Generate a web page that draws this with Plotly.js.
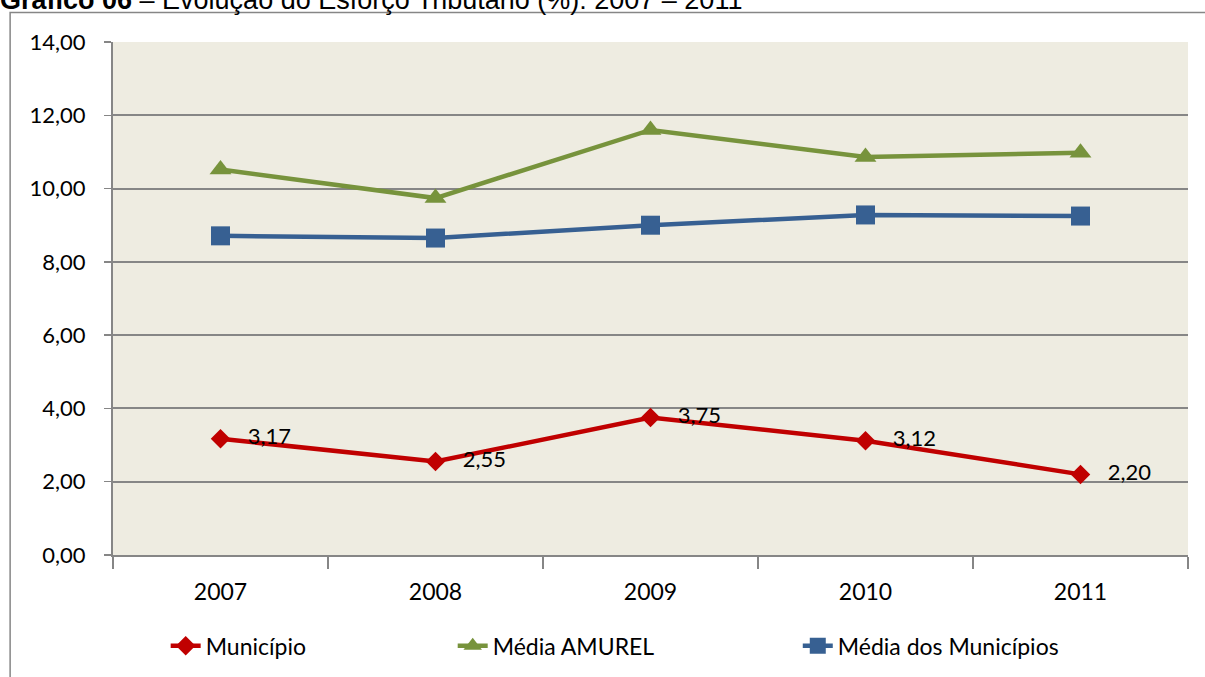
<!DOCTYPE html>
<html>
<head>
<meta charset="utf-8">
<script src="https://cdn.plot.ly/plotly-3.0.1.min.js"></script>
<style>
  html, body { margin: 0; padding: 0; background: #fff; }
  #grafico { width: 1205px; height: 677px; }
</style>
</head>
<body>
<div id="grafico"></div>
<script>
// Esforço tributário (%) por ano
const anos = ['2007', '2008', '2009', '2010', '2011'];
const municipio = [3.17, 2.55, 3.75, 3.12, 2.20];
const mediaAmurel = [10.52, 9.74, 11.60, 10.86, 10.98];
const mediaMunicipios = [8.71, 8.65, 9.00, 9.28, 9.25];

const fonte = 'Lato, "Open Sans", sans-serif';
const cinza = '#868686';

const serieMunicipio = {
    x: anos,
    y: municipio,
    name: 'Município',
    type: 'scatter',
    mode: 'lines+markers+text',
    texttemplate: '\u00a0\u00a0\u00a0%{y:.2f}',
    textposition: 'middle right',
    textfont: { family: fonte, size: 22, color: '#000' },
    line: { color: '#C00000', width: 4.5 },
    marker: { symbol: 'diamond', size: 15, color: '#C00000' },
    legend: 'legend'
};

const serieAmurel = {
    x: anos,
    y: mediaAmurel,
    name: 'Média AMUREL',
    type: 'scatter',
    mode: 'lines+markers',
    line: { color: '#77933C', width: 4.5 },
    marker: { symbol: 'triangle-up', size: 19, color: '#77933C' },
    legend: 'legend2'
};

const serieMedia = {
    x: anos,
    y: mediaMunicipios,
    name: 'Média dos Municípios',
    type: 'scatter',
    mode: 'lines+markers',
    line: { color: '#376092', width: 4.5 },
    marker: { symbol: 'square', size: 19, color: '#376092' },
    legend: 'legend3'
};

// legenda: uma caixa por série para imitar o espaçamento original
function legenda(x) {
    return {
        orientation: 'h',
        x: x,
        xanchor: 'left',
        y: -0.177,
        yanchor: 'middle',
        bgcolor: 'rgba(0,0,0,0)',
        font: { family: fonte, size: 23, color: '#000' }
    };
}

const layout = {
    width: 1205,
    height: 677,
    margin: { l: 113, r: 17, t: 42, b: 122, autoexpand: false },
    paper_bgcolor: '#ffffff',
    plot_bgcolor: '#EEECE1',
    separators: ',.',
    font: { family: fonte, size: 22, color: '#000' },
    showlegend: true,
    legend: legenda(0.049),
    legend2: legenda(0.316),
    legend3: legenda(0.637),
    xaxis: {
        type: 'category',
        range: [-0.5, 4.5],
        automargin: false,
        tickson: 'boundaries',
        ticks: 'outside',
        ticklen: 12,
        tickwidth: 1.5,
        tickcolor: cinza,
        showline: true,
        linecolor: cinza,
        linewidth: 2,
        showgrid: false,
        ticklabelstandoff: 15,
        tickfont: { family: fonte, size: 23, color: '#000' }
    },
    yaxis: {
        range: [0, 14],
        automargin: false,
        dtick: 2,
        tickformat: '.2f',
        ticks: 'outside',
        ticklen: 7,
        tickwidth: 1.5,
        tickcolor: cinza,
        showline: true,
        linecolor: cinza,
        linewidth: 2,
        showgrid: true,
        gridcolor: cinza,
        gridwidth: 2,
        zeroline: false,
        ticklabelstandoff: 14,
        tickfont: { family: fonte, size: 22, color: '#000' }
    },
    shapes: [{
        type: 'rect',
        xref: 'paper', yref: 'paper',
        x0: -0.0957, x1: 1.2,
        y0: -0.4, y1: 1.0575,
        line: { color: cinza, width: 1.5 },
        fillcolor: 'rgba(0,0,0,0)',
        layer: 'below'
    }],
    annotations: [{
        xref: 'paper', yref: 'paper',
        x: -0.107, xanchor: 'left',
        y: 1.0819, yanchor: 'middle',
        showarrow: false,
        text: '<b>Gráfico 06</b> – Evolução do Esforço Tributário (%): 2007 – 2011',
        font: { family: '"Liberation Sans", Arial, sans-serif', size: 27, color: '#000' }
    }]
};

Plotly.newPlot('grafico', [serieMunicipio, serieAmurel, serieMedia], layout, { staticPlot: true, displayModeBar: false });
</script>
</body>
</html>
